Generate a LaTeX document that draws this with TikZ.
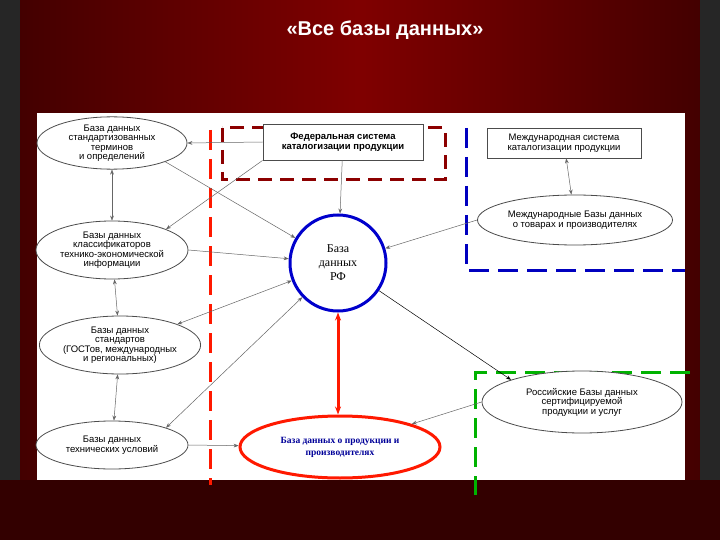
\documentclass[tikz,border=0pt]{standalone}
\usepackage{fontspec}
\setmainfont{Liberation Serif}
\newfontfamily\sans{Liberation Sans}
\usetikzlibrary{shapes.geometric,arrows.meta}
\begin{document}
\begin{tikzpicture}[x=1pt,y=-1pt,
 ell/.style={ellipse,draw=black!70,line width=0.8pt,fill=white,font=\sans\fontsize{9.5}{9.5}\selectfont,align=center,inner sep=0pt},
 rbox/.style={draw=black!70,line width=0.8pt,fill=white,font=\sans\fontsize{9.5}{10}\selectfont,align=center},
 arr/.style={-{Stealth[length=5pt]},black!60,line width=0.5pt},
 darr/.style={{Stealth[length=5pt]}-{Stealth[length=5pt]},black!60,line width=0.5pt}]
\useasboundingbox (0,0) rectangle (720,540);
\shade[left color=red!25!black, right color=red!25!black, middle color=red!50!black] (0,0) rectangle (720,540);
\fill[black!85] (0,0) rectangle (20,540);
\fill[black!85] (700,0) rectangle (720,540);
\fill[red!20!black] (0,480) rectangle (720,540);
\node[text=white,font=\sans\bfseries\fontsize{20}{22}\selectfont] (title) at (385,30) {«Все базы данных»};
\fill[white] (37,113) rectangle (685,480);
% dashed frames
\draw[red!55!black,line width=3pt,dash pattern=on 14pt off 8pt] (222,128) -- (222,180) -- (445,180) -- (445,128) -- cycle;
\draw[red!80!orange,line width=3pt,dash pattern=on 20pt off 9pt] (210,130) -- (210,485);
\draw[blue!75!black,line width=3pt,dash pattern=on 20pt off 9pt] (466,128) -- (466,270) -- (685,270);
\draw[green!70!black,line width=3pt,dash pattern=on 20pt off 9pt] (690,372) -- (475,372) -- (475,495);
% nodes
\node[ell,minimum width=150pt,minimum height=52pt] (e1) at (112,143) {База данных\\стандартизованных\\терминов\\и определений};
\node[ell,minimum width=152pt,minimum height=58pt] (e2) at (112,250) {Базы данных\\классификаторов\\технико-экономической\\информации};
\node[ell,minimum width=152pt,minimum height=58pt] (e3) at (120,345) {Базы данных\\стандартов\\(ГОСТов, международных\\и региональных)};
\node[ell,minimum width=152pt,minimum height=48pt] (e4) at (112,445) {Базы данных\\технических условий};
\node[rbox,minimum width=160pt,minimum height=36pt,font=\sans\bfseries\fontsize{9.5}{10}\selectfont] (f) at (343,142) {Федеральная система\\каталогизации продукции};
\node[rbox,minimum width=154pt,minimum height=30pt] (ms) at (564,143) {Международная система\\каталогизации продукции};
\node[ell,minimum width=195pt,minimum height=50pt] (mb) at (575,220) {Международные Базы данных\\о товарах и производителях};
\node[ell,minimum width=200pt,minimum height=62pt] (rb) at (582,402) {Российские Базы данных\\сертифицируемой\\продукции и услуг};
\node[circle,draw=blue!80!black,line width=3pt,fill=white,minimum size=96pt,align=center,font=\fontsize{12}{14}\selectfont,inner sep=0pt] (c) at (338,263) {База\\данных\\РФ};
\node[ellipse,draw=red!80!orange,line width=3pt,fill=white,minimum width=200pt,minimum height=62pt,align=center,text=blue!60!black,font=\bfseries\fontsize{9.5}{12}\selectfont,inner sep=0pt] (bd) at (340,447) {База данных о продукции и\\производителях};
% connectors
\draw[red!80!orange,line width=3pt,{Stealth[length=8pt]}-{Stealth[length=8pt]}] (c.south) -- (c.south |- bd.north);
\draw[darr] (e1) -- (e2);
\draw[darr] (e2) -- (e3);
\draw[darr] (e3) -- (e4);
\draw[arr] (f.west) -- (e1.east);
\draw[arr] (f.south west) -- (e2.north east);
\draw[arr] (e1.south east) -- (c);
\draw[arr] (e2.east) -- (c);
\draw[darr] (e3.north east) -- (c);
\draw[darr] (e4.north east) -- (c);
\draw[arr] (e4.east) -- (bd);
\draw[arr] (f) -- (c);
\draw[darr] (ms) -- (mb);
\draw[arr] (mb.west) -- (c);
\draw[arr,black] (c) -- (rb.north west);
\draw[arr] (rb.west) -- (bd.north east);
\end{tikzpicture}
\end{document}
